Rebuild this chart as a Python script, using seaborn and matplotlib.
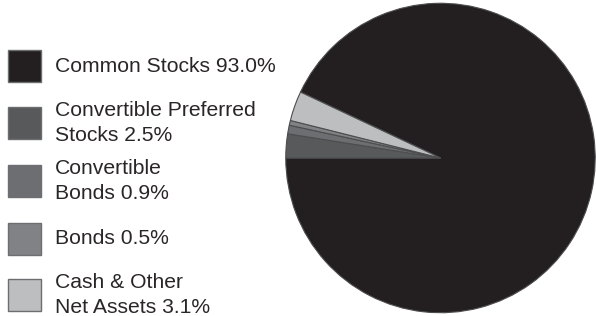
import matplotlib
matplotlib.use("Agg")
import matplotlib.pyplot as plt
from matplotlib.patches import Rectangle
import seaborn as sns

categories = ["Common Stocks", "Convertible Preferred Stocks", "Convertible Bonds", "Bonds", "Cash & Other Net Assets"]
values = [93.0, 2.5, 0.9, 0.5, 3.1]
legend_labels = [["Common Stocks 93.0%"],
                 ["Convertible Preferred", "Stocks 2.5%"],
                 ["Convertible", "Bonds 0.9%"],
                 ["Bonds 0.5%"],
                 ["Cash & Other", "Net Assets 3.1%"]]
colors = ["#231f20", "#58595b", "#6d6e71", "#808285", "#bcbec0"]

sns.set_theme(style="white")
plt.rcParams['font.family'] = ['Liberation Sans', 'DejaVu Sans']

W, H = 596, 316
fig = plt.figure(figsize=(W / 100, H / 100), dpi=100)
fig.patch.set_facecolor("white")

cx, cy, r = 440.5, 158.0, 155.5
ax = fig.add_axes([(cx - r) / W, 1 - (cy + r) / H, 2 * r / W, 2 * r / H])
ax.pie(values, colors=colors, startangle=180 + 3.6 * values[0], counterclock=False,
       radius=1.0, wedgeprops=dict(edgecolor="#4d4d4f", linewidth=0.8))
ax.set_xlim(-1.005, 1.005)
ax.set_ylim(-1.005, 1.005)
ax.set_aspect("equal")
ax.axis("off")

# legend (manual)
box_tops = [50, 107, 165, 223, 279]
bw, bh = 33, 32
for top, col, lines in zip(box_tops, colors, legend_labels):
    fig.add_artist(Rectangle((8 / W, 1 - (top + bh) / H), bw / W, bh / H,
                             facecolor=col, edgecolor="#6d6e71", linewidth=1.0,
                             transform=fig.transFigure))
    yc = top + bh / 2
    n = len(lines)
    for i, line in enumerate(lines):
        y = yc + (i - (n - 1) / 2) * 25
        fig.text(55 / W, 1 - y / H, line, ha="left", va="center",
                 fontsize=15.2, color="#2a2627")

fig.savefig("out.png", dpi=100, facecolor="white")
